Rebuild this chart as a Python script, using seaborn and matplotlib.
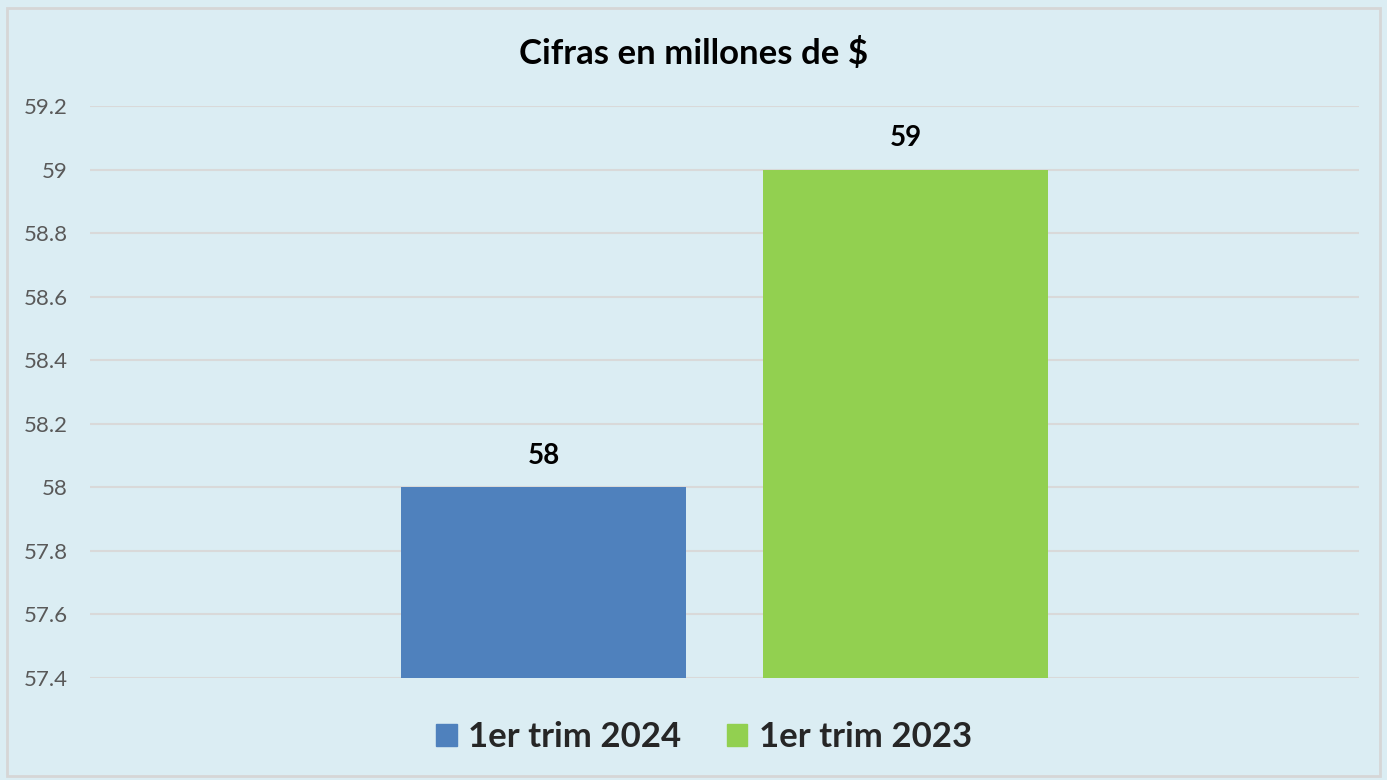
import pandas as pd
import matplotlib.pyplot as plt
import seaborn as sns

# datos del gráfico
categorias = ['Cifras']
series = ['1er trim 2024', '1er trim 2023']
valores = [58, 59]
colores = ['#4F81BD', '#92D050']

df = pd.DataFrame({'cat': categorias * len(series), 'serie': series, 'valor': valores})

sns.set_style('white')
plt.rcParams['font.family'] = ['Lato', 'DejaVu Sans']

bg = '#DBEDF3'
fig = plt.figure(figsize=(13.87, 7.8), dpi=100, facecolor=bg)
ax = fig.add_axes([0.0649, 0.1308, 0.9149, 0.7333])
ax.set_facecolor(bg)

sns.barplot(data=df, x='cat', y='valor', hue='serie', palette=colores, saturation=1,
            width=0.5705, gap=0.2125, linewidth=0, ax=ax, legend=False, zorder=3)

ax.set_ylim(57.4, 59.2)
ax.set_xlim(-0.5, 0.5)
ax.set_yticks([57.4, 57.6, 57.8, 58, 58.2, 58.4, 58.6, 58.8, 59, 59.2])
ax.set_yticklabels(['57.4', '57.6', '57.8', '58', '58.2', '58.4', '58.6', '58.8', '59', '59.2'])
ax.yaxis.grid(True, color='#D9D9D9', linewidth=1.5, zorder=0)
ax.set_axisbelow(True)
ax.tick_params(axis='y', length=0, labelsize=16, labelcolor='#595959', pad=16)
ax.set_xticks([])
ax.set_xlabel('')
ax.set_ylabel('')
for s in ax.spines.values():
    s.set_visible(False)

for cont in ax.containers:
    ax.bar_label(cont, fmt='%g', padding=13, fontsize=20, fontweight='bold', color='black')

fig.text(0.5, 0.932, 'Cifras en millones de $', ha='center', va='center',
         fontsize=25, fontweight='bold', color='black')

handles = [plt.Rectangle((0, 0), 1, 1, color=c) for c in colores]
fig.legend(handles, series, loc='center', bbox_to_anchor=(0.5076, 0.0545), ncol=2,
           frameon=False, prop={'size': 25, 'weight': 'bold'},
           handlelength=0.6, handleheight=0.6, handletextpad=0.32, columnspacing=1.3)

# marco exterior
fig.add_artist(plt.Rectangle((0.005, 0.005), 0.99, 0.985, transform=fig.transFigure,
                             fill=False, edgecolor='#D6D6D6', linewidth=2))

fig.savefig('out.png', dpi=100, facecolor=bg)
